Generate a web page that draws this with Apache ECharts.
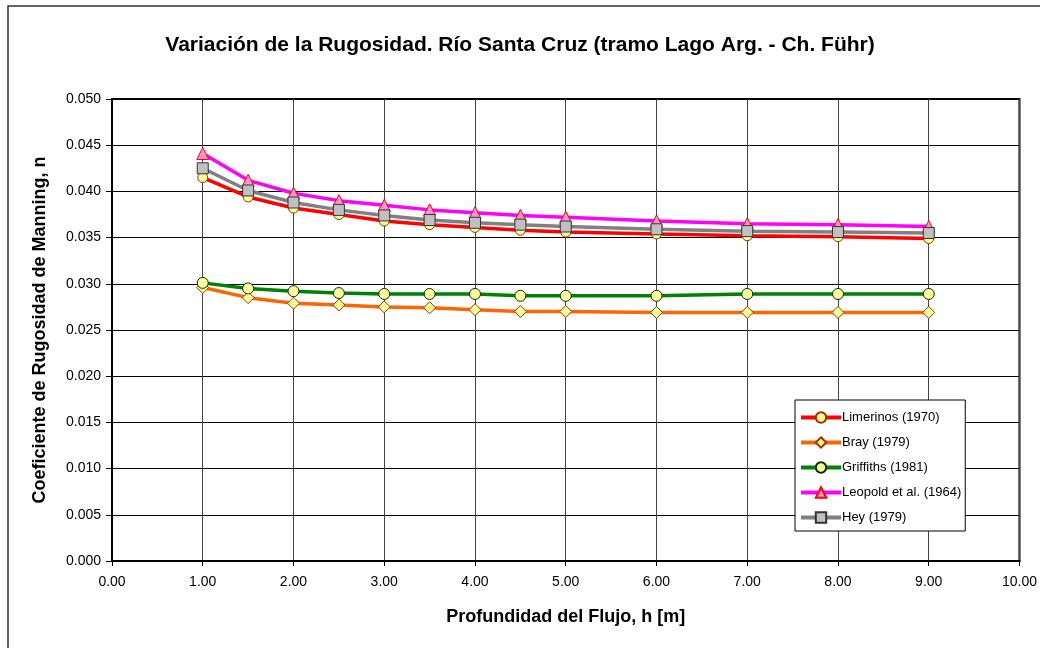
<!DOCTYPE html>
<html>
<head>
<meta charset="utf-8">
<script src="https://cdn.jsdelivr.net/npm/echarts@6/dist/echarts.min.js"></script>
<style>
html,body{margin:0;padding:0;background:#fff;}
#c{width:1040px;height:648px;}
</style>
</head>
<body>
<div id="c"></div>
<script>
const depths = [1.0, 1.5, 2.0, 2.5, 3.0, 3.5, 4.0, 4.5, 5.0, 6.0, 7.0, 8.0, 9.0];
const limerinos = [0.0415, 0.0394, 0.0382, 0.0375, 0.0368, 0.0364, 0.0361, 0.0358, 0.0356, 0.0354, 0.0352, 0.0351, 0.0349];
const bray      = [0.0296, 0.0285, 0.0279, 0.0277, 0.0275, 0.0274, 0.0272, 0.0270, 0.0270, 0.0269, 0.0269, 0.0269, 0.0269];
const griffiths = [0.0301, 0.0295, 0.0292, 0.0290, 0.0289, 0.0289, 0.0289, 0.0287, 0.0287, 0.0287, 0.0289, 0.0289, 0.0289];
const leopold   = [0.0441, 0.0412, 0.0398, 0.0390, 0.0385, 0.0380, 0.0377, 0.0374, 0.0372, 0.0368, 0.0365, 0.0364, 0.0362];
const hey       = [0.0425, 0.0401, 0.0388, 0.0380, 0.0374, 0.0369, 0.0366, 0.0364, 0.0362, 0.0359, 0.0357, 0.0356, 0.0355];
const seriesNames = ['Limerinos (1970)', 'Bray (1979)', 'Griffiths (1981)', 'Leopold et al. (1964)', 'Hey (1979)'];
const titleText = 'Variación de la Rugosidad. Río Santa Cruz (tramo Lago Arg. - Ch. Führ)';
const xName = 'Profundidad del Flujo, h [m]';
const yName = 'Coeficiente de Rugosidad de Manning, n';

const FONT = '"Liberation Sans", Arial, sans-serif';
function pts(vals){ return depths.map((d,i)=>[d, vals[i]]); }
function mk(name, vals, color, symbol, size, fill, border){
  return {
    name: name, type: 'line', data: pts(vals),
    symbol: symbol, symbolSize: size, showAllSymbol: true,
    lineStyle: {color: color, width: 3.5},
    itemStyle: {color: fill, borderColor: border, borderWidth: 1},
    color: color,
    emphasis: {disabled: true}, animation: false
  };
}
const chart = echarts.init(document.getElementById('c'), null, {renderer: 'canvas'});
chart.setOption({
  animation: false,
  backgroundColor: '#fff',
  title: {
    text: titleText, left: 'center', top: 30,
    textStyle: {fontFamily: FONT, fontSize: 21, fontWeight: 'bold', color: '#000'}
  },
  graphic: [{
    type: 'rect', shape: {x: 8, y: 6, width: 1100, height: 700},
    style: {fill: 'none', stroke: '#333', lineWidth: 1.5}, silent: true
  }],
  grid: {left: 112, top: 99, right: 20, bottom: 87, show: true, borderColor: '#000', borderWidth: 2, backgroundColor: 'transparent'},
  xAxis: {
    type: 'value', min: 0, max: 10, interval: 1,
    name: xName, nameLocation: 'middle', nameGap: 47,
    nameTextStyle: {fontFamily: FONT, fontSize: 18, fontWeight: 'bold', color: '#000'},
    axisLine: {lineStyle: {color: '#000', width: 2}},
    axisTick: {show: true, inside: false, length: 5, lineStyle: {color: '#000'}},
    axisLabel: {fontFamily: FONT, fontSize: 14, color: '#000', margin: 14, formatter: v => v.toFixed(2)},
    splitLine: {show: true, lineStyle: {color: '#444', width: 1}}
  },
  yAxis: {
    type: 'value', min: 0, max: 0.05, interval: 0.005,
    name: yName, nameLocation: 'middle', nameGap: 63, nameRotate: 90,
    nameTextStyle: {fontFamily: FONT, fontSize: 18, fontWeight: 'bold', color: '#000'},
    axisLine: {show: true, lineStyle: {color: '#000', width: 2}},
    axisTick: {show: true, inside: false, length: 6, lineStyle: {color: '#000'}},
    axisLabel: {fontFamily: FONT, fontSize: 14, color: '#000', margin: 11, formatter: v => v.toFixed(3)},
    splitLine: {show: true, lineStyle: {color: '#000', width: 1}}
  },
  legend: {
    data: seriesNames, orient: 'vertical', left: 795, top: 400,
    padding: [11, 4, 7, 4], itemGap: 12, itemWidth: 40, itemHeight: 13,
    backgroundColor: '#fff', borderColor: '#000', borderWidth: 1,
    lineStyle: {width: 4},
    textStyle: {fontFamily: FONT, fontSize: 13, color: '#000', padding: [0,0,0,-4]}
  },
  series: [
    mk(seriesNames[0], limerinos, '#FF0000', 'circle', 10, '#FFFF99', '#993300'),
    mk(seriesNames[1], bray, '#FF6600', 'diamond', 12, '#FFFF99', '#993300'),
    mk(seriesNames[2], griffiths, '#008000', 'circle', 11, '#FFFF99', '#003300'),
    mk(seriesNames[3], leopold, '#FF00FF', 'triangle', 12, '#FF99CC', '#FF0000'),
    mk(seriesNames[4], hey, '#808080', 'rect', 11, '#C0C0C0', '#333333')
  ]
});
</script>
</body>
</html>
